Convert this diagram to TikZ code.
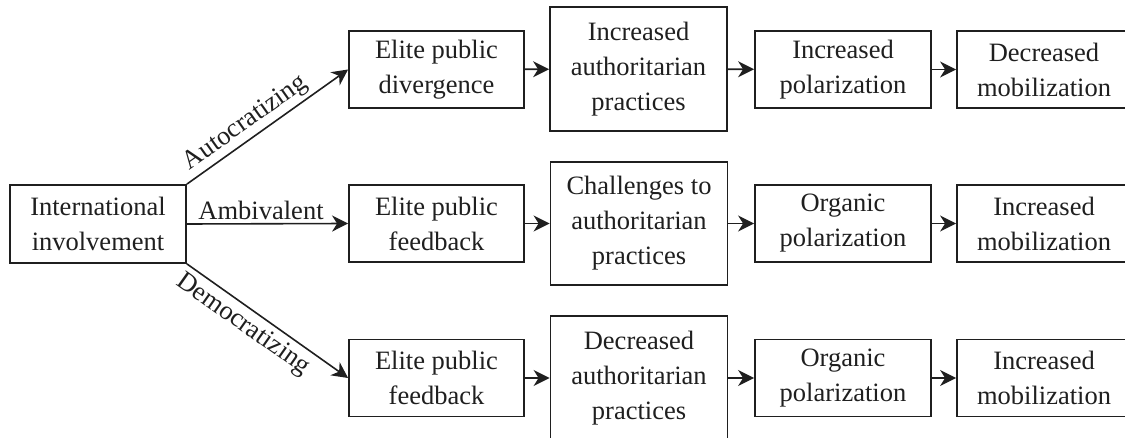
\documentclass[tikz,border=0pt]{standalone}
\usepackage{fontspec}
\setmainfont{Liberation Serif}
\usetikzlibrary{arrows.meta}
\begin{document}
\begin{tikzpicture}[x=1pt,y=-1pt,
  box/.style={draw=black!88, line width=1.8pt, align=center, inner sep=0pt, text=black!88,
    font=\fontsize{26.5}{35}\selectfont},
  small/.style={box, minimum width=176pt, minimum height=77pt},
  tall/.style={box, minimum width=177pt, minimum height=124pt},
  conn/.style={draw=black!88, line width=1.6pt, -{Stealth[length=16pt,width=16pt,inset=5pt]}},
  lbl/.style={font=\fontsize{26.5}{35}\selectfont, text=black!88, inner sep=3pt}]
\useasboundingbox (0,0) rectangle (1125,438);
% source
\node[box, minimum width=176pt, minimum height=78pt] (intl) at (98,224) {International\\involvement};
% top row
\node[small, minimum width=175pt] (a1) at (436.5,69.5) {Elite public\\divergence};
\node[tall] (a2) at (638.5,69) {Increased\\authoritarian\\practices};
\node[small] (a3) at (843,69.5) {Increased\\polarization};
\node[small, minimum width=174pt] (a4) at (1044,69.5) {Decreased\\mobilization};
% middle row
\node[small, minimum width=175pt] (b1) at (436.5,223.5) {Elite public\\feedback};
\node[tall, minimum height=123pt] (b2) at (639,223.5) {Challenges to\\authoritarian\\practices};
\node[small] (b3) at (843,223.5) {Organic\\polarization};
\node[small, minimum width=174pt] (b4) at (1044,223.5) {Increased\\mobilization};
% bottom row
\node[small, minimum width=175pt] (c1) at (436.5,378) {Elite public\\feedback};
\node[tall] (c2) at (639,378) {Decreased\\authoritarian\\practices};
\node[small] (c3) at (843,378) {Organic\\polarization};
\node[small, minimum width=174pt] (c4) at (1044,378) {Increased\\mobilization};
% branches
\draw[conn] (intl.north east) -- node[lbl, pos=0.42, sloped, above] {Autocratizing} (a1.west);
\draw[conn] (intl.east) -- node[lbl, pos=0.46, above] {Ambivalent} (b1.west);
\draw[conn] (intl.south east) -- node[lbl, pos=0.41, sloped, below, inner sep=5pt] {Democratizing} (c1.west);
% chains
\draw[conn] (a1) -- (a2);
\draw[conn] (a2) -- (a3);
\draw[conn] (a3) -- (a4);
\draw[conn] (b1) -- (b2);
\draw[conn] (b2) -- (b3);
\draw[conn] (b3) -- (b4);
\draw[conn] (c1) -- (c2);
\draw[conn] (c2) -- (c3);
\draw[conn] (c3) -- (c4);
\end{tikzpicture}
\end{document}
